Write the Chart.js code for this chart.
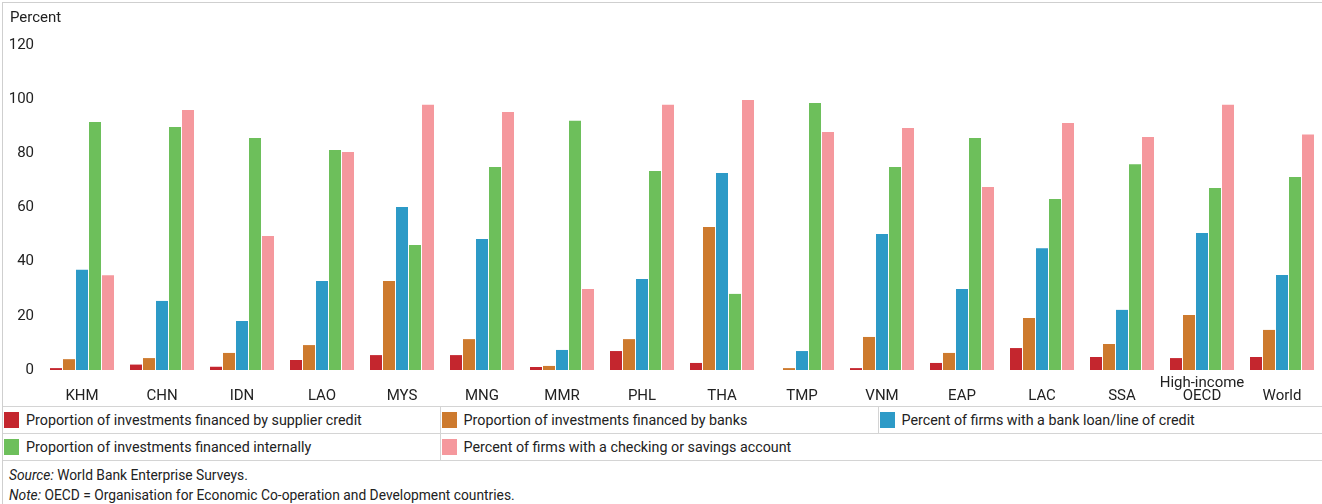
<!DOCTYPE html>
<html>
<head>
<meta charset="utf-8">
<script src="https://cdn.jsdelivr.net/npm/chart.js@4.4.1/dist/chart.umd.min.js"></script>
<style>
  body { margin: 0; background: #fff; color: #222; font-family: Roboto, 'Liberation Sans', sans-serif; }
  #frame { position: absolute; left: 2px; top: 2px; width: 1320px; border-left: 1px solid #cfcfcf; border-top: 1px solid #cfcfcf; }
  #chartBox { position: relative; width: 1319px; height: 403px; }
  table.legend { border-collapse: collapse; table-layout: fixed; width: 1319px; border-top: 1px solid #d4d4d4; }
  table.legend td { height: 26px; padding: 0; border-bottom: 1px solid #d4d4d4; font-size: 14.3px; white-space: nowrap; vertical-align: middle; }
  table.legend td.sep { border-right: 1px solid #d4d4d4; }
  .sw { display: inline-block; width: 15px; height: 16px; margin: 0 7px 0 1px; vertical-align: -3px; }
  .notes { font-size: 13.8px; padding: 4px 0 0 6px; line-height: 20px; }
</style>
</head>
<body>
<div id="frame">
  <div id="chartBox"><canvas id="finance"></canvas></div>
  <table class="legend" id="legend"></table>
  <div class="notes">
    <div><i>Source:</i> World Bank Enterprise Surveys.</div>
    <div><i>Note:</i> OECD = Organisation for Economic Co-operation and Development countries.</div>
  </div>
</div>
<script>
const categories = ['KHM', 'CHN', 'IDN', 'LAO', 'MYS', 'MNG', 'MMR', 'PHL', 'THA', 'TMP', 'VNM', 'EAP', 'LAC', 'SSA', ['High-income', 'OECD'], 'World'];
const supplierCredit = [0.7, 2.0, 1.2, 3.7, 5.5, 5.5, 1.1, 7.0, 2.6, 0, 0.7, 2.6, 8.1, 4.8, 4.4, 4.8];
const banks = [4.0, 4.4, 6.3, 9.2, 32.9, 11.4, 1.5, 11.4, 52.8, 0.7, 12.2, 6.3, 19.2, 9.6, 20.3, 14.8];
const bankLoan = [37.0, 25.5, 18.1, 32.9, 60.2, 48.4, 7.4, 33.6, 72.7, 7.0, 50.2, 29.9, 45.0, 22.2, 50.6, 35.1];
const internal = [91.6, 89.7, 85.7, 81.2, 46.2, 75.0, 92.0, 73.5, 28.1, 98.6, 75.0, 85.7, 63.1, 76.0, 67.2, 71.3];
const accounts = [35.0, 96.0, 49.5, 80.5, 97.9, 95.3, 29.9, 97.9, 99.7, 87.9, 89.4, 67.6, 91.2, 86.0, 97.9, 87.0];
const yTicks = [0, 20, 40, 60, 80, 100, 120];

const series = [
    { label: 'Proportion of investments financed by supplier credit', data: supplierCredit, color: '#C4262E' },
    { label: 'Proportion of investments financed by banks', data: banks, color: '#CD7A2E' },
    { label: 'Percent of firms with a bank loan/line of credit', data: bankLoan, color: '#2D9AC7' },
    { label: 'Proportion of investments financed internally', data: internal, color: '#6DBF5B' },
    { label: 'Percent of firms with a checking or savings account', data: accounts, color: '#F5989D' },
];

// legend grid: 3 columns, filled row by row
var rows = [];
series.forEach(function (s, i) {
    var r = Math.floor(i / 3);
    rows[r] = rows[r] || [];
    rows[r].push(s);
});
var legendHtml = '<colgroup><col style="width:437px"><col style="width:438px"><col style="width:444px"></colgroup>';
rows.forEach(function (row, r) {
    legendHtml += '<tr>';
    for (var c = 0; c < 3; c++) {
        var s = row[c];
        var cls = c < 2 ? ' class="sep"' : '';
        if (r > 0 && c === 1) cls = '';
        legendHtml += '<td' + cls + '>' + (s ? '<span class="sw" style="background:' + s.color + '"></span>' + s.label : '') + '</td>';
    }
    legendHtml += '</tr>';
});
document.getElementById('legend').innerHTML = legendHtml;

Chart.defaults.font.family = "Roboto, 'Liberation Sans', sans-serif";
Chart.defaults.color = '#222';

var ctx = document.getElementById('finance');
var myChart = new Chart(ctx, {
    type: 'bar',
    data: {
        labels: categories,
        datasets: series.map(function (s) {
            return {
                label: s.label,
                data: s.data,
                backgroundColor: s.color,
                borderWidth: 0,
                categoryPercentage: 0.8125,
                barPercentage: 0.923,
            };
        })
    },
    options: {
        responsive: true,
        maintainAspectRatio: false,
        animation: false,
        layout: {
            padding: { left: 7, right: 0, top: 0, bottom: 0 },
        },
        plugins: {
            legend: { display: false },
            tooltip: { enabled: false },
            title: {
                display: true,
                text: 'Percent',
                align: 'start',
                color: '#222',
                font: { size: 15, weight: 'normal' },
                padding: { top: 6, bottom: 18 },
            },
        },
        scales: {
            x: {
                grid: { display: false, drawTicks: false },
                border: { display: false },
                ticks: {
                    font: { size: 15, lineHeight: 0.9 },
                    color: '#222',
                    maxRotation: 0,
                    autoSkip: false,
                    padding: 13,
                    crossAlign: 'far',
                },
                afterFit: function (axis) { axis.height = 36; },
            },
            y: {
                min: 0,
                max: 120,
                grid: { display: false, drawTicks: false },
                border: { display: false },
                ticks: {
                    font: { size: 15 },
                    color: '#222',
                    padding: 8,
                },
                afterBuildTicks: function (axis) {
                    axis.ticks = yTicks.map(function (v) { return { value: v }; });
                },
                afterFit: function (axis) { axis.width = 32; },
            },
        },
    },
});
</script>
</body>
</html>
